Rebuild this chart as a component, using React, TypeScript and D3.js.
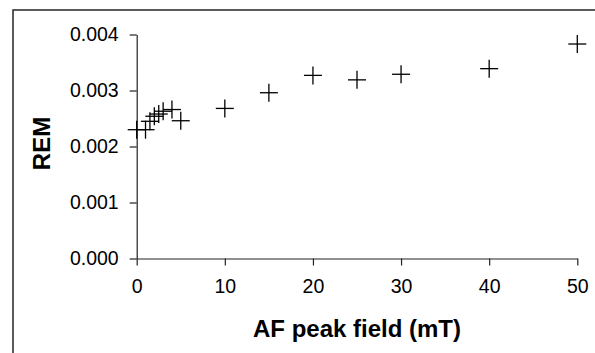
import React, { useEffect, useRef } from "react";
import * as d3 from "d3";

// AF demagnetisation steps (mT) and remanence
const fields = [0, 1, 1.5, 2, 2.5, 3, 4, 5, 10, 15, 20, 25, 30, 40, 50];
const rem = [
  0.0023, 0.0023, 0.00245, 0.00254, 0.00258, 0.00263, 0.00266, 0.00246,
  0.00268, 0.00296, 0.00327, 0.00319, 0.00329, 0.00339, 0.00383,
];
const xTicks = [0, 10, 20, 30, 40, 50];
const yTicks = [0, 0.001, 0.002, 0.003, 0.004];

const W = 595;
const H = 353;
const FONT = "Arial, 'Liberation Sans', sans-serif";

export default function App() {
  const ref = useRef<SVGSVGElement>(null);

  useEffect(() => {
    const svg = d3.select(ref.current);
    svg.selectAll("*").remove();

    const x = d3.scaleLinear().domain([0, 50]).range([136.7, 577.3]);
    const y = d3.scaleLinear().domain([0, 0.004]).range([258.5, 34.5]);

    // outer chart frame (runs off right / bottom edge)
    svg.append("rect")
      .attr("x", 13).attr("y", 10)
      .attr("width", W).attr("height", H)
      .attr("fill", "none")
      .attr("stroke", "#333")
      .attr("stroke-width", 1.6);

    const yAxis = svg.append("g")
      .attr("transform", `translate(${x(0)},0)`)
      .call(d3.axisLeft(y).tickValues(yTicks).tickSize(7).tickSizeOuter(0)
        .tickPadding(11).tickFormat(d3.format(".3f")));

    const xAxis = svg.append("g")
      .attr("transform", `translate(0,${y(0)})`)
      .call(d3.axisBottom(x).tickValues(xTicks).tickSize(7).tickSizeOuter(0)
        .tickPadding(14).tickFormat(d3.format("d")));

    [yAxis, xAxis].forEach(g => {
      g.select(".domain").attr("stroke", "#222").attr("stroke-width", 1.2);
      g.selectAll(".tick line").attr("stroke", "#222").attr("stroke-width", 1.2);
      g.selectAll("text")
        .attr("font-family", FONT)
        .attr("font-size", 19.5)
        .attr("fill", "#000");
    });

    // plus markers
    const s = 9;
    const pts = svg.append("g").attr("stroke", "#000").attr("stroke-width", 1.3);
    fields.forEach((f, i) => {
      const cx = x(f), cy = y(rem[i]);
      pts.append("line").attr("x1", cx - s).attr("x2", cx + s).attr("y1", cy).attr("y2", cy);
      pts.append("line").attr("x1", cx).attr("x2", cx).attr("y1", cy - s).attr("y2", cy + s);
    });

    svg.append("text")
      .attr("x", (x(0) + x(50)) / 2)
      .attr("y", 337)
      .attr("text-anchor", "middle")
      .attr("font-family", FONT)
      .attr("font-weight", "bold")
      .attr("font-size", 24)
      .text("AF peak field (mT)");

    svg.append("text")
      .attr("transform", `translate(50,${(y(0) + y(0.004)) / 2 - 3}) rotate(-90)`)
      .attr("text-anchor", "middle")
      .attr("font-family", FONT)
      .attr("font-weight", "bold")
      .attr("font-size", 24)
      .text("REM");
  }, []);

  return (
    <svg
      ref={ref}
      width={W}
      height={H}
      style={{ position: "absolute", left: 0, top: 0, background: "#fff" }}
    />
  );
}
